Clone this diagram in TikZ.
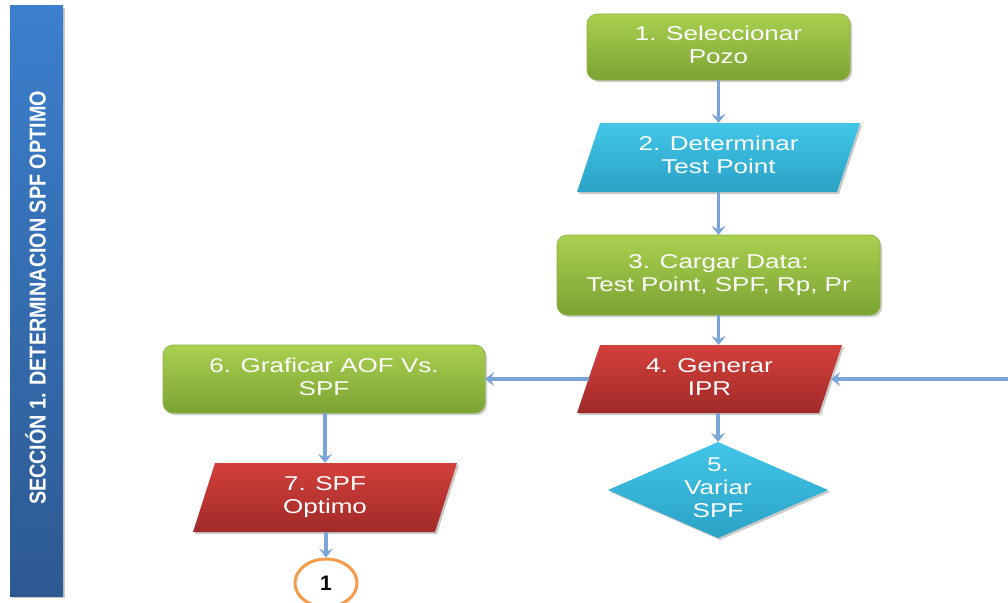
\documentclass[tikz,border=0pt]{standalone}
\usepackage{fontspec}
\setmainfont{Liberation Sans}
\usetikzlibrary{arrows.meta,shadows,backgrounds,shapes.geometric}
\definecolor{gtop}{HTML}{A9D050}
\definecolor{gbot}{HTML}{7BA332}
\definecolor{gline}{HTML}{8AB03E}
\definecolor{ctop}{HTML}{42C6E8}
\definecolor{cbot}{HTML}{2AA2C6}
\definecolor{rtop}{HTML}{D4403C}
\definecolor{rbot}{HTML}{A02A28}
\definecolor{btop}{HTML}{3C7FCD}
\definecolor{bbot}{HTML}{2D5991}
\definecolor{arrowc}{HTML}{7BA4D9}
\definecolor{orangec}{HTML}{F79A4A}
\newcommand\flowtext[1]{\scalebox{1.3}[1]{\fontsize{20}{23}\selectfont\begin{tabular}{@{}c@{}}#1\end{tabular}}}
\begin{document}
\begin{tikzpicture}[x=1pt,y=-1pt,
  holder/.style={inner sep=0pt, outer sep=0pt, text=white, align=center},
  shad/.style={drop shadow={shadow xshift=2pt, shadow yshift=-2pt, opacity=0.35, fill=black!60}},
  greenfill/.style={top color=gtop, bottom color=gbot, draw=gline, line width=0.6pt, shad},
  cyanfill/.style={top color=ctop, bottom color=cbot, shad},
  redfill/.style={top color=rtop, bottom color=rbot, shad},
  gbox/.style={holder, rounded corners=10pt, greenfill},
  arr/.style={draw=arrowc, line width=3.6pt, -{Stealth[length=9pt,width=14pt,inset=3.5pt]}}]
\useasboundingbox (0,0) rectangle (1008,602);

% side bar
\node[inner sep=0pt, outer sep=0pt, minimum width=53pt, minimum height=590pt,
      top color=btop, bottom color=bbot, shad] (bar) at (36.5,301) {};
\node[rotate=90, text=white, font=\bfseries\fontsize{23}{23}\selectfont] (title) at (35.5,298)
  {\scalebox{0.86}[1]{SECCIÓN 1. DETERMINACION SPF OPTIMO}};

% boxes
\node[gbox, minimum width=263pt, minimum height=66pt] (n1) at (718.5,47) {\flowtext{1. Seleccionar\\Pozo}};
\node[holder, minimum width=283pt, minimum height=69pt] (n2) at (718.5,157.5) {\flowtext{2. Determinar\\Test Point}};
\node[gbox, minimum width=323pt, minimum height=80pt] (n3) at (718.5,275) {\flowtext{3. Cargar Data:\\Test Point, SPF, Rp, Pr}};
\node[holder, minimum width=265pt, minimum height=68pt] (n4) at (709.5,379) {\flowtext{4. Generar\\IPR}};
\node[holder, minimum width=220pt, minimum height=96pt] (n5) at (718,490) {\flowtext{5.\\Variar\\SPF}};
\node[gbox, minimum width=322pt, minimum height=68pt] (n6) at (324,379) {\flowtext{6. Graficar AOF Vs.\\SPF}};
\node[holder, minimum width=264pt, minimum height=69pt] (n7) at (325,497.5) {\flowtext{7. SPF\\Optimo}};
\node[ellipse, draw=orangec, line width=3pt, fill=white, inner sep=0pt,
      minimum width=62pt, minimum height=48pt, font=\bfseries\fontsize{21}{21}\selectfont] (c1) at (326,583) {1};

\begin{scope}[on background layer]
  \path[cyanfill] ([xshift=23pt]n2.north west) -- (n2.north east) -- ([xshift=-23pt]n2.south east) -- (n2.south west) -- cycle;
  \path[redfill] ([xshift=23pt]n4.north west) -- (n4.north east) -- ([xshift=-23pt]n4.south east) -- (n4.south west) -- cycle;
  \path[cyanfill] (n5.north) -- (n5.east) -- (n5.south) -- (n5.west) -- cycle;
  \path[redfill] ([xshift=22pt]n7.north west) -- (n7.north east) -- ([xshift=-22pt]n7.south east) -- (n7.south west) -- cycle;
\end{scope}

% connectors
\coordinate (rin) at (1008,379);
\draw[arr] (n1.south) -- (n2.north);
\draw[arr] (n2.south) -- (n3.north);
\draw[arr] (n3.south) -- (n3.south |- n4.north);
\draw[arr] (n5.north |- n4.south) -- (n5.north);
\draw[arr] ([xshift=11.5pt]n4.west) -- (n6.east);
\draw[arr] (rin) -- ([xshift=-11pt]n4.east);
\draw[arr] (n6.south -| n7.north) -- (n7.north);
\draw[arr] (n7.south -| c1.north) -- (c1.north);
\end{tikzpicture}
\end{document}
